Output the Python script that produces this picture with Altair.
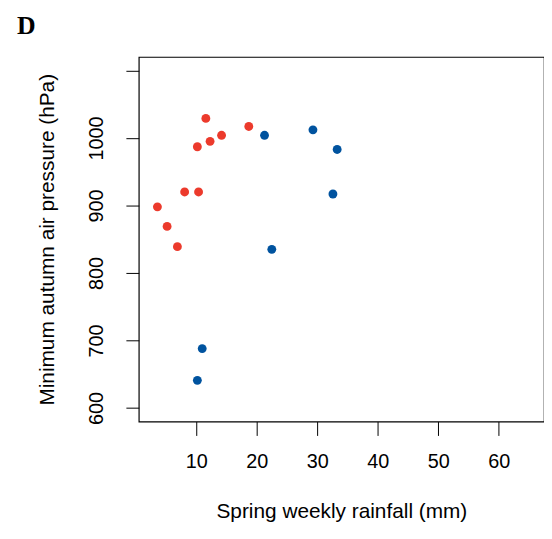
import altair as alt
import pandas as pd

# Spring weekly rainfall (mm) and minimum autumn air pressure (hPa)
red_rain = [11.6, 18.7, 14.2, 12.3, 10.2, 8.1, 10.4, 3.6, 5.2, 6.9]
red_pres = [1029, 1017, 1004, 995, 987, 920, 920, 898, 869, 839]
blue_rain = [21.3, 29.3, 33.3, 32.6, 22.5, 11.0, 10.2]
blue_pres = [1004, 1012, 983, 917, 835, 688, 641]

x_ticks = [10, 20, 30, 40, 50, 60]
y_ticks = [600, 700, 800, 900, 1000, 1100]

df = pd.DataFrame({
    "rain": red_rain + blue_rain,
    "pres": red_pres + blue_pres,
    "group": ["red"] * len(red_rain) + ["blue"] * len(blue_rain),
})

FONT = "Liberation Sans"

points = alt.Chart(df).mark_circle(size=80, opacity=1).encode(
    x=alt.X("rain:Q",
            scale=alt.Scale(domain=[0.52, 67.48], nice=False, zero=False),
            axis=alt.Axis(values=x_ticks, format="d", title="Spring weekly rainfall (mm)",
                          grid=False, domain=False, tickSize=14, tickColor="black",
                          labelFontSize=20, labelFont=FONT, labelColor="black",
                          labelPadding=16, titleFontSize=21, titleFont=FONT,
                          titleFontWeight="normal", titleColor="black",
                          titleBaseline="alphabetic", titleY=97)),
    y=alt.Y("pres:Q",
            scale=alt.Scale(domain=[580, 1120], nice=False, zero=False),
            axis=alt.Axis(values=y_ticks, format="d", title="Minimum autumn air pressure (hPa)",
                          grid=False, domain=False, tickSize=13, tickColor="black",
                          labelFontSize=20, labelFont=FONT, labelColor="black",
                          labelAngle=-90, labelAlign="center", labelBaseline="alphabetic",
                          labelPadding=24,
                          labelExpr="datum.value == 1100 ? '' : datum.label",
                          titleFontSize=21, titleFont=FONT, titleFontWeight="normal",
                          titleColor="black", titleAngle=-90,
                          titleBaseline="alphabetic", titleX=-86, titleY=184)),
    color=alt.Color("group:N",
                    scale=alt.Scale(domain=["red", "blue"], range=["#ec3a2c", "#00539f"]),
                    legend=None),
)

label = alt.Chart(pd.DataFrame({"panel": ["D"]})).mark_text(
    font="Liberation Serif", fontWeight="bold", fontSize=26,
    align="left", baseline="alphabetic", color="black",
).encode(text="panel:N", x=alt.value(-123), y=alt.value(-23))

chart = alt.layer(points, label).properties(
    width=409, height=368,
    autosize=alt.AutoSizeParams(type="none"),
    padding={"left": 132, "top": 47, "right": 0, "bottom": 100},
).configure_view(stroke="black", strokeWidth=1.2)

chart.save("out.html", embed_options={"renderer": "svg", "actions": False})
